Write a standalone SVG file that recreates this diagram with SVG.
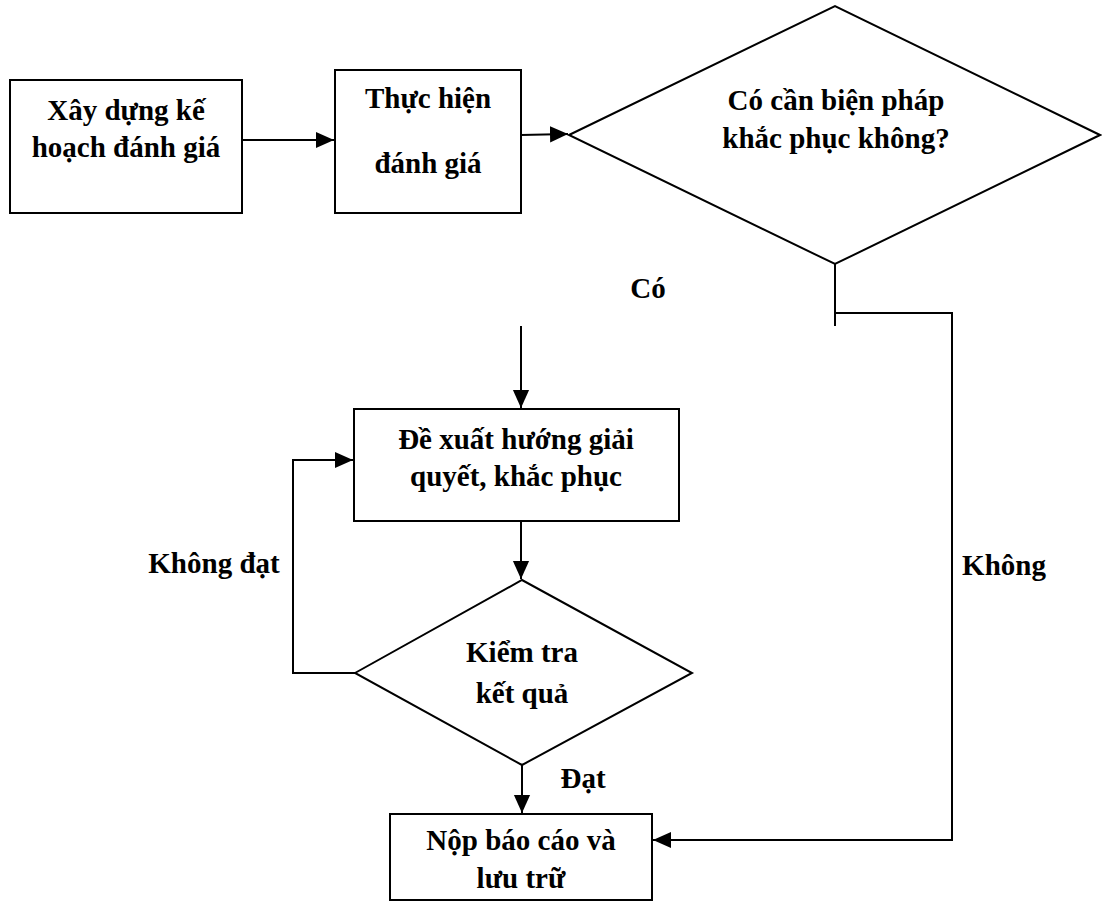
<svg xmlns="http://www.w3.org/2000/svg" width="1102" height="903" viewBox="0 0 1102 903">
<style>
.shape{fill:#fff;stroke:#000;stroke-width:2}
.conn{fill:none;stroke:#000;stroke-width:2}
text{font-family:"Liberation Serif","Times New Roman",serif;font-weight:bold;font-size:29px;fill:#000}
.c{text-anchor:middle}
</style>
<defs>
<marker id="arr" viewBox="0 0 10 10" refX="10" refY="5" markerWidth="9" markerHeight="9" markerUnits="strokeWidth" orient="auto">
<path d="M0,0.5 L10,5 L0,9.5 Z" fill="#000"/>
</marker>
</defs>
<rect width="1102" height="903" fill="#fff"/>
<g id="connectors">
<path class="conn" d="M242,140 L334,140" marker-end="url(#arr)"/>
<path class="conn" d="M521,135 L568,134" marker-end="url(#arr)"/>
<path class="conn" d="M835,264 L835,326"/>
<path class="conn" d="M835,313 L952,313 L952,840 L653,840" marker-end="url(#arr)"/>
<path class="conn" d="M521,326 L521,408" marker-end="url(#arr)"/>
<path class="conn" d="M355,673 L293,673 L293,460 L353,460" marker-end="url(#arr)"/>
<path class="conn" d="M521,521 L521,579" marker-end="url(#arr)"/>
<path class="conn" d="M522,765 L522,813" marker-end="url(#arr)"/>
</g>
<g id="n1">
<rect class="shape" x="10" y="80" width="232" height="133"/>
<text class="c" x="126" y="120">Xây dựng kế</text>
<text class="c" x="126" y="157">hoạch đánh giá</text>
</g>
<g id="n2">
<rect class="shape" x="335" y="70" width="186" height="143"/>
<text class="c" x="428" y="108">Thực hiện</text>
<text class="c" x="428" y="173">đánh giá</text>
</g>
<g id="n3">
<polygon class="shape" points="569,135 835,6 1100,135 835,264"/>
<text class="c" x="836" y="110">Có cần biện pháp</text>
<text class="c" x="836" y="148">khắc phục không?</text>
</g>
<g id="n4">
<rect class="shape" x="354" y="409" width="325" height="112"/>
<text class="c" x="516" y="449">Đề xuất hướng giải</text>
<text class="c" x="516" y="486">quyết, khắc phục</text>
</g>
<g id="n5">
<polygon class="shape" points="355,673 522,580 692,673 522,765"/>
<text class="c" x="522" y="662">Kiểm tra</text>
<text class="c" x="522" y="703">kết quả</text>
</g>
<g id="n6">
<rect class="shape" x="390" y="814" width="262" height="86"/>
<text class="c" x="521" y="850">Nộp báo cáo và</text>
<text class="c" x="521" y="888">lưu trữ</text>
</g>
<g id="labels">
<text class="c" x="648" y="298">Có</text>
<text class="c" x="214" y="573">Không đạt</text>
<text class="c" x="583" y="788">Đạt</text>
<text class="c" x="1004" y="575">Không</text>
</g>
</svg>
